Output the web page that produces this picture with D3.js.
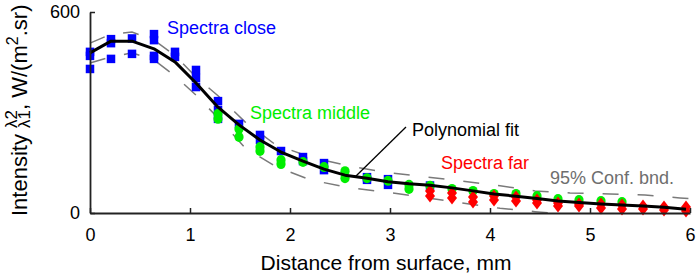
<!DOCTYPE html>
<html>
<head>
<meta charset="utf-8">
<script src="https://cdn.jsdelivr.net/npm/d3@7"></script>
<style>
	body { margin: 0; background: #fff; }
	svg { font-family: "Liberation Sans", Arial, sans-serif; }
</style>
</head>
<body>
<svg id="chart" width="700" height="280"></svg>
<script>
// blue squares - "Spectra close"
let closeX = [0, 0, 0, 0.21, 0.21, 0.21, 0.42, 0.42, 0.64, 0.64, 0.64, 0.64, 0.85, 0.85,
	1.06, 1.06, 1.06, 1.28, 1.28, 1.28, 1.49, 1.70, 1.70, 1.91, 2.13, 2.13, 2.34, 2.34,
	2.77, 2.77, 2.98, 2.98, 3.40];
let closeY = [481, 469, 430, 519, 507, 460, 521, 475, 534, 516, 469, 460, 481, 466,
	427, 403, 376, 334, 307, 281, 266, 233, 218, 185, 167, 155, 149, 128,
	107, 99, 101, 84, 82];

// green circles - "Spectra middle"
let middleX = [1.28, 1.28, 1.49, 1.49, 1.70, 1.70, 1.91, 1.91, 2.13, 2.34, 2.55, 2.55, 2.77, 2.98,
	3.19, 3.19, 3.40, 3.62, 3.83, 4.04, 4.26, 4.47, 4.68, 4.89, 5.11, 5.32];
let middleY = [296, 281, 251, 227, 197, 185, 158, 146, 152, 137, 125, 104, 104, 96,
	84, 72, 81, 72, 66, 57, 57, 51, 42, 39, 36, 33];

// red diamonds - "Spectra far"
let farX = [3.40, 3.40, 3.62, 3.62, 3.83, 3.83, 4.04, 4.04, 4.26, 4.26, 4.47, 4.47, 4.68, 4.68,
	4.89, 4.89, 5.11, 5.11, 5.32, 5.32, 5.53, 5.53, 5.74, 5.74, 5.96, 5.96];
let farY = [66, 51, 60, 45, 48, 33, 51, 39, 48, 36, 39, 30, 30, 21,
	27, 21, 27, 15, 24, 12, 21, 12, 18, 9, 18, 6];

// polynomial fit
let fitX = [0, 0.21, 0.42, 0.64, 0.85, 1.06, 1.28, 1.49, 1.70, 1.91, 2.13, 2.34, 2.55, 2.77, 2.98,
	3.19, 3.40, 3.62, 3.83, 4.04, 4.26, 4.47, 4.68, 4.89, 5.11, 5.32, 5.53, 5.74, 5.96];
let fitY = [478, 513, 513, 490, 451, 388, 316, 263, 218, 182, 155, 131, 113, 104, 93,
	87, 83, 75, 66, 57, 50, 43, 36, 31, 27, 24, 21, 17, 11];

// 95% confidence bounds
let bandX = [0, 0.21, 0.42, 0.64, 0.85, 1.06, 1.28, 1.55, 1.85, 2.2, 2.6, 2.95, 3.3, 3.7,
	4.1, 4.45, 4.8, 5.2, 5.55, 5.9, 6.0];
let bandUpper = [507, 534, 540, 516, 470, 406, 350, 272, 205, 167, 140, 122, 110, 96,
	81, 66, 60, 57, 54, 45, 43];
let bandLower = [448, 466, 478, 457, 409, 352, 284, 195, 140, 99, 75, 63, 48, 31,
	14, 4, -4, -10, -14, -18, -19];

let xTicks = [0, 1, 2, 3, 4, 5, 6];
let yTicks = [0, 600];

let svg = d3.select("#chart");

let x = d3.scaleLinear()
	.domain([0, 6])
	.range([90, 690]);

let y = d3.scaleLinear()
	.domain([0, 600])
	.range([213, 12]);

svg.append("clipPath")
	.attr("id", "plot-clip")
	.append("rect")
	.attr("x", 88)
	.attr("y", 0)
	.attr("width", 612)
	.attr("height", 213);

let zip = (xs, ys) => xs.map((v, i) => [v, ys[i]]);

let line = d3.line()
	.x(d => x(d[0]))
	.y(d => y(d[1]));

// confidence bounds
svg.append("g")
	.attr("clip-path", "url(#plot-clip)")
	.selectAll("path")
	.data([zip(bandX, bandUpper), zip(bandX, bandLower)])
	.join("path")
	.attr("d", line)
	.attr("fill", "none")
	.attr("stroke", "#7a7a7a")
	.attr("stroke-width", 1.5)
	.attr("stroke-dasharray", "16,19");

// markers
svg.append("g")
	.selectAll("rect")
	.data(zip(closeX, closeY))
	.join("rect")
	.attr("x", d => x(d[0]) - 4.25)
	.attr("y", d => y(d[1]) - 4.25)
	.attr("width", 8.5)
	.attr("height", 8.5)
	.attr("fill", "#0000ff");

svg.append("g")
	.selectAll("ellipse")
	.data(zip(middleX, middleY))
	.join("ellipse")
	.attr("cx", d => x(d[0]))
	.attr("cy", d => y(d[1]))
	.attr("rx", 4.6)
	.attr("ry", 5)
	.attr("fill", "#00ee00");

svg.append("g")
	.selectAll("path")
	.data(zip(farX, farY))
	.join("path")
	.attr("transform", d => "translate(" + x(d[0]) + "," + y(d[1]) + ")")
	.attr("d", "M0,-6.5L5,0L0,6.5L-5,0Z")
	.attr("fill", "#ff0000");

// fit line
svg.append("path")
	.datum(zip(fitX, fitY))
	.attr("d", line)
	.attr("fill", "none")
	.attr("stroke", "#000")
	.attr("stroke-width", 3)
	.attr("stroke-linejoin", "round");

// axes
let xAxis = svg.append("g")
	.attr("transform", "translate(0,213)")
	.call(d3.axisBottom(x).tickValues(xTicks).tickSizeInner(-5).tickSizeOuter(0).tickPadding(15).tickFormat(d3.format("d")));

let yAxis = svg.append("g")
	.attr("transform", "translate(90,0)")
	.call(d3.axisLeft(y).tickValues(yTicks).tickSizeInner(-5).tickSizeOuter(0).tickPadding(10));

for (let g of [xAxis, yAxis]){
	g.select(".domain").attr("stroke", "#222").attr("stroke-width", 1.8);
	g.selectAll(".tick line").attr("stroke", "#222").attr("stroke-width", 1.5);
	g.selectAll(".tick text").attr("font-size", 18).attr("fill", "#000").attr("font-family", "Liberation Sans, Arial, sans-serif");
}

// axis titles
svg.append("text")
	.attr("x", 386)
	.attr("y", 270)
	.attr("text-anchor", "middle")
	.attr("font-size", 21)
	.text("Distance from surface, mm");

let yTitle = svg.append("text")
	.attr("transform", "translate(27,216) rotate(-90)")
	.attr("font-size", 22);
yTitle.append("tspan").text("Intensity ");
let sup = yTitle.append("tspan")
	.attr("font-size", 17)
	.attr("dy", -10)
	.text("λ2");
let supWidth = sup.node().getComputedTextLength();
yTitle.append("tspan")
	.attr("font-size", 17)
	.attr("dx", -supWidth)
	.attr("dy", 13)
	.text("λ1");
yTitle.append("tspan")
	.attr("dy", -3)
	.text(", W/(m");
yTitle.append("tspan")
	.attr("font-size", 16)
	.attr("dy", -9)
	.text("2");
yTitle.append("tspan")
	.attr("dy", 9)
	.text(".sr)");

// annotations
let notes = [
	{text: "Spectra close", x: 167, y: 34, color: "#0000ff"},
	{text: "Spectra middle", x: 250, y: 119, color: "#00ee00"},
	{text: "Polynomial fit", x: 412, y: 136, color: "#000"},
	{text: "Spectra far", x: 441, y: 169, color: "#ff0000"},
	{text: "95% Conf. bnd.", x: 550, y: 184, color: "#6e6e6e"}
];
svg.append("g")
	.selectAll("text")
	.data(notes)
	.join("text")
	.attr("x", d => d.x)
	.attr("y", d => d.y)
	.attr("font-size", 18)
	.attr("fill", d => d.color)
	.text(d => d.text);

svg.append("line")
	.attr("x1", 406)
	.attr("y1", 127)
	.attr("x2", 355)
	.attr("y2", 177)
	.attr("stroke", "#000")
	.attr("stroke-width", 1.3);
</script>
</body>
</html>
